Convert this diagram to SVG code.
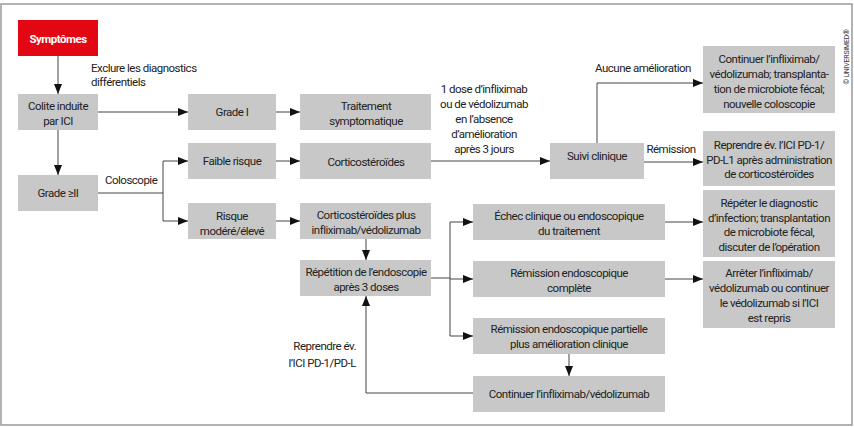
<svg xmlns="http://www.w3.org/2000/svg" width="854" height="427" viewBox="0 0 854 427">
<defs>
<marker id="ah" viewBox="0 0 10 8" refX="10" refY="4" markerWidth="10" markerHeight="8" markerUnits="userSpaceOnUse" orient="auto">
<path d="M0,0 L10,4 L0,8 Z" fill="#111"/>
</marker>
<style>
.b{fill:#c8c8c8}
.t{font-family:"Roboto",sans-serif;font-size:11.5px;letter-spacing:-0.5px;fill:#222;text-anchor:middle}
.l{font-family:"Roboto",sans-serif;font-size:11.5px;letter-spacing:-0.5px;fill:#222}
.c{fill:none;stroke:#444;stroke-width:1}
.a{marker-end:url(#ah)}
</style>
</defs>
<rect x="1" y="4" width="851" height="421" fill="#fff" stroke="#999" stroke-width="1.5"/>
<text transform="translate(849,57) rotate(-90)" style="font-family:'Roboto',sans-serif;font-size:7px;letter-spacing:-0.2px;fill:#333;text-anchor:middle">© UNIVERSIMED®</text>

<g id="connectors">
<path class="c a" d="M58,56 V94"/>
<path class="c a" d="M98,112 H188"/>
<path class="c a" d="M58,130 V175"/>
<path class="c a" d="M276,112 H300"/>
<path class="c" d="M98,193 H163 M163,161 V221"/>
<path class="c a" d="M163,161 H188"/>
<path class="c a" d="M163,221 H188"/>
<path class="c a" d="M276,161 H300"/>
<path class="c a" d="M276,221 H300"/>
<path class="c a" d="M431,161 H550"/>
<path class="c a" d="M366,239 V260"/>
<path class="c" d="M431,278 H450 M450,222 V336"/>
<path class="c a" d="M450,222 H473"/>
<path class="c a" d="M450,279 H473"/>
<path class="c a" d="M450,336 H473"/>
<path class="c a" d="M597,143 V83 H703"/>
<path class="c a" d="M644,162 H703"/>
<path class="c a" d="M665,222 H703"/>
<path class="c a" d="M665,279 H703"/>
<path class="c a" d="M569,354 V376"/>
<path class="c a" d="M473,393 H366 V296"/>
<text class="l" x="91" y="72">Exclure les diagnostics</text>
<text class="l" x="91" y="86">différentiels</text>
<text class="l" x="105" y="184">Coloscopie</text>
<text class="t" x="484" y="93">1 dose d’infliximab</text>
<text class="t" x="484" y="108">ou de védolizumab</text>
<text class="t" x="484" y="123">en l’absence</text>
<text class="t" x="484" y="138">d’amélioration</text>
<text class="t" x="484" y="153">après 3 jours</text>
<text class="t" x="643" y="72">Aucune amélioration</text>
<text class="t" x="671" y="153">Rémission</text>
<text class="l" x="356" y="350" style="text-anchor:end">Reprendre év.</text>
<text class="l" x="356" y="367" style="text-anchor:end">l’ICI PD-1/PD-L</text>
</g>

<g id="symptomes"><rect x="18" y="20" width="80" height="36" fill="#e30613"/><text class="t" x="58" y="43" style="fill:#fff;font-weight:bold">Symptômes</text></g>
<g id="colite"><rect class="b" x="18" y="94" width="80" height="36"/><text class="t" x="58" y="110">Colite induite</text><text class="t" x="58" y="125">par ICI</text></g>
<g id="grade2"><rect class="b" x="18" y="175" width="80" height="36"/><text class="t" x="58" y="197">Grade ≥II</text></g>
<g id="grade1"><rect class="b" x="188" y="94" width="88" height="36"/><text class="t" x="232" y="116">Grade I</text></g>
<g id="faible"><rect class="b" x="188" y="143" width="88" height="36"/><text class="t" x="232" y="165">Faible risque</text></g>
<g id="risque"><rect class="b" x="188" y="203" width="88" height="36"/><text class="t" x="232" y="220">Risque</text><text class="t" x="232" y="235">modéré/élevé</text></g>
<g id="traitement"><rect class="b" x="300" y="94" width="131" height="36"/><text class="t" x="366" y="110">Traitement</text><text class="t" x="366" y="125">symptomatique</text></g>
<g id="cortico"><rect class="b" x="300" y="143" width="131" height="36"/><text class="t" x="366" y="166">Corticostéroïdes</text></g>
<g id="corticoplus"><rect class="b" x="300" y="203" width="131" height="36"/><text class="t" x="366" y="219">Corticostéroïdes plus</text><text class="t" x="366" y="234">infliximab/védolizumab</text></g>
<g id="repetition"><rect class="b" x="300" y="260" width="131" height="36"/><text class="t" x="366" y="276">Répétition de l’endoscopie</text><text class="t" x="366" y="291">après 3 doses</text></g>
<g id="suivi"><rect class="b" x="550" y="143" width="94" height="36"/><text class="t" x="597" y="160">Suivi clinique</text></g>
<g id="continuer1"><rect class="b" x="703" y="46" width="132" height="67"/><text class="t" x="769" y="63">Continuer l’infliximab/</text><text class="t" x="769" y="78">védolizumab; transplanta-</text><text class="t" x="769" y="93">tion de microbiote fécal;</text><text class="t" x="769" y="108">nouvelle coloscopie</text></g>
<g id="reprendre"><rect class="b" x="703" y="131" width="132" height="55"/><text class="t" x="769" y="149">Reprendre év. l’ICI PD-1/</text><text class="t" x="769" y="164">PD-L1 après administration</text><text class="t" x="769" y="178">de corticostéroïdes</text></g>
<g id="repeter"><rect class="b" x="703" y="190" width="132" height="67"/><text class="t" x="769" y="207">Répéter le diagnostic</text><text class="t" x="769" y="222">d’infection; transplantation</text><text class="t" x="769" y="236">de microbiote fécal,</text><text class="t" x="769" y="251">discuter de l’opération</text></g>
<g id="arreter"><rect class="b" x="703" y="261" width="132" height="67"/><text class="t" x="769" y="277">Arrêter l’infliximab/</text><text class="t" x="769" y="292">védolizumab ou continuer</text><text class="t" x="769" y="307">le védolizumab si l’ICI</text><text class="t" x="769" y="322">est repris</text></g>
<g id="echec"><rect class="b" x="473" y="204" width="192" height="36"/><text class="t" x="569" y="220">Échec clinique ou endoscopique</text><text class="t" x="569" y="235">du traitement</text></g>
<g id="remission"><rect class="b" x="473" y="261" width="192" height="36"/><text class="t" x="569" y="277">Rémission endoscopique</text><text class="t" x="569" y="292">complète</text></g>
<g id="partielle"><rect class="b" x="473" y="318" width="192" height="36"/><text class="t" x="569" y="333">Rémission endoscopique partielle</text><text class="t" x="569" y="348">plus amélioration clinique</text></g>
<g id="continuer2"><rect class="b" x="473" y="376" width="192" height="36"/><text class="t" x="569" y="398">Continuer l’infliximab/védolizumab</text></g>
</svg>
